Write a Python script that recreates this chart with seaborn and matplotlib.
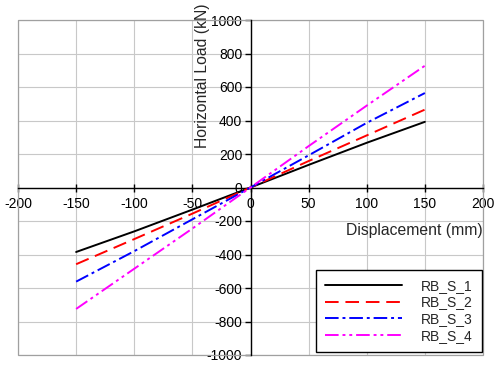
import matplotlib
matplotlib.use("Agg")
import matplotlib.pyplot as plt
from matplotlib.patches import Rectangle
import seaborn as sns
import pandas as pd

displacement = [-150, -100, -50, 0, 50, 100, 150]
rb_s_1 = [-385, -262, -132, 0, 135, 267, 392]
rb_s_2 = [-458, -308, -156, 0, 158, 311, 465]
rb_s_3 = [-562, -380, -190, 0, 192, 386, 564]
rb_s_4 = [-725, -485, -245, 0, 247, 489, 727]
series_names = ["RB_S_1", "RB_S_2", "RB_S_3", "RB_S_4"]
x_ticks = [-200, -150, -100, -50, 0, 50, 100, 150, 200]
y_ticks = [-1000, -800, -600, -400, -200, 0, 200, 400, 600, 800, 1000]

rows = []
for name, vals in zip(series_names, [rb_s_1, rb_s_2, rb_s_3, rb_s_4]):
    for x, y in zip(displacement, vals):
        rows.append({"Displacement": x, "Load": y, "Series": name})
df = pd.DataFrame(rows)

sns.set_style("white")
plt.rcParams["font.family"] = ["Liberation Sans", "DejaVu Sans"]
plt.rcParams["axes.unicode_minus"] = False

fig = plt.figure(figsize=(5, 3.71), dpi=100)
ax = fig.add_axes([18 / 500, 1 - 355 / 371, 465 / 500, 335 / 371])

palette = {"RB_S_1": "#000000", "RB_S_2": "#ff0000", "RB_S_3": "#0000ff", "RB_S_4": "#ff00ff"}
dashes = {"RB_S_1": "", "RB_S_2": (7, 3.5), "RB_S_3": (7, 2, 1.5, 2),
          "RB_S_4": (7, 2, 1.5, 2, 1.5, 2)}
sns.lineplot(data=df, x="Displacement", y="Load", hue="Series", style="Series",
             palette=palette, dashes=dashes, linewidth=1.4, ax=ax, legend=True,
             zorder=3)

ax.set_xlim(-200, 200)
ax.set_ylim(-1000, 1000)
ax.set_xticks(x_ticks)
ax.set_yticks(y_ticks)
ax.grid(True, color="#c8c8c8", linewidth=0.8)
ax.set_axisbelow(True)

for s in ["top", "right"]:
    ax.spines[s].set_visible(False)
ax.spines["left"].set_position("zero")
ax.spines["bottom"].set_position("zero")
for s in ["left", "bottom"]:
    ax.spines[s].set_color("black")
    ax.spines[s].set_linewidth(1.0)
    ax.spines[s].set_zorder(2)
ax.add_patch(Rectangle((0, 0), 1, 1, transform=ax.transAxes, fill=False,
                       edgecolor="#a0a0a0", linewidth=0.9, zorder=1, clip_on=False))

ax.tick_params(axis="x", direction="inout", length=6, width=1, labelsize=10,
               colors="black", pad=4)
ax.tick_params(axis="y", direction="out", length=4, width=1, labelsize=10,
               colors="black", pad=2)
ax.xaxis.set_ticks_position("bottom")
ax.yaxis.set_ticks_position("left")

ax.set_xlabel("")
ax.set_ylabel("")
fig.text(202 / 500, 1 - 76 / 371, "Horizontal Load (kN)", rotation=90,
         ha="center", va="center", fontsize=11.3)
fig.text(414 / 500, 1 - 231 / 371, "Displacement (mm)", ha="center", va="center",
         fontsize=11.3)

handles, labels = ax.get_legend_handles_labels()
inv = ax.transAxes.inverted()
anchor = inv.transform(fig.transFigure.transform((482 / 500, 1 - 352 / 371)))
leg = ax.legend(handles, labels, loc="lower right",
                bbox_to_anchor=(anchor[0], anchor[1]), borderaxespad=0,
                frameon=True, fancybox=False, edgecolor="black", framealpha=1,
                fontsize=10, handlelength=5.5, handletextpad=1.4, labelspacing=0.2,
                borderpad=0.65)
leg.get_frame().set_linewidth(1.0)
leg.set_zorder(5)

fig.savefig("out.png", dpi=100)
